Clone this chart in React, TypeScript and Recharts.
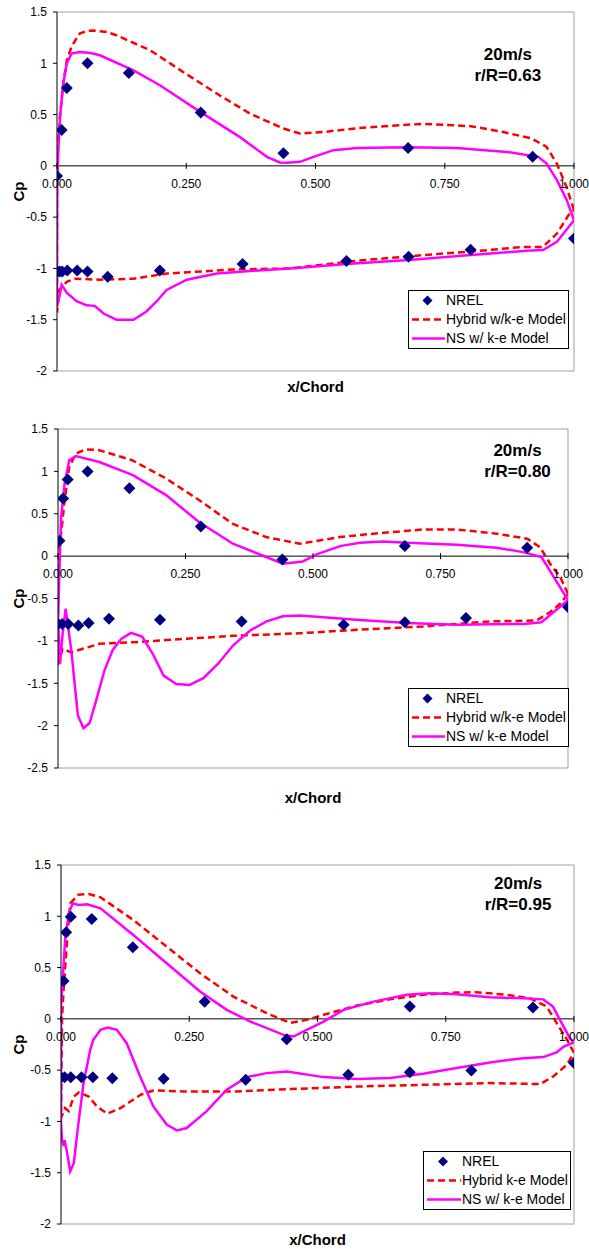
import React from "react";
import { ComposedChart, Line, Scatter, XAxis, YAxis, ReferenceLine, ReferenceDot, Legend, Label } from "recharts";

type Pt = [number, number];

const FONT = "Arial, 'Liberation Sans', sans-serif";
const RED = "#ff0000";
const MAGENTA = "#ff00ff";
const NAVY = "#000080";

// x/Chord ticks shared by all three panels
const xTicks = [0, 0.25, 0.5, 0.75, 1];
const xTickLabels = ["0.000", "0.250", "0.500", "0.750", "1.000"];

// ---------- r/R = 0.63 ----------
const yTicks063 = [-2, -1.5, -1, -0.5, 0, 0.5, 1, 1.5];
const nrel063: Pt[] = [
  [0.0, -0.1], [0.009, 0.35], [0.019, 0.76], [0.059, 1.0], [0.139, 0.905], [0.278, 0.52],
  [0.438, 0.124], [0.679, 0.175], [0.92, 0.088],
  [0.0, -1.03], [0.005, -1.03], [0.01, -1.03], [0.02, -1.02], [0.039, -1.02], [0.059, -1.03],
  [0.098, -1.08], [0.199, -1.02], [0.359, -0.957], [0.56, -0.928], [0.68, -0.886], [0.8, -0.818],
  [1.0, -0.707],
];
const hybrid063: Pt[] = [
  [1.0, -0.43], [0.985, -0.2], [0.967, 0.02], [0.947, 0.185], [0.918, 0.267], [0.863, 0.33],
  [0.8, 0.387], [0.709, 0.41], [0.644, 0.39], [0.58, 0.367], [0.515, 0.33], [0.47, 0.315],
  [0.438, 0.364], [0.373, 0.51], [0.309, 0.705], [0.244, 0.915], [0.18, 1.127], [0.115, 1.273],
  [0.096, 1.305], [0.07, 1.32], [0.057, 1.315], [0.044, 1.29], [0.035, 1.22], [0.028, 1.16],
  [0.019, 1.03], [0.012, 0.8], [0.006, 0.5], [0.002, 0.2], [0.0, -0.1], [0.0, -1.43],
  [0.0045, -1.21], [0.019, -1.13], [0.035, -1.1], [0.083, -1.11], [0.148, -1.1], [0.212, -1.05],
  [0.341, -1.01], [0.451, -1.0], [0.58, -0.925], [0.709, -0.87], [0.837, -0.82], [0.902, -0.79],
  [0.94, -0.79], [0.967, -0.66], [0.992, -0.46], [1.0, -0.43],
];
const ns063: Pt[] = [
  [1.0, -0.53], [0.986, -0.334], [0.967, -0.14], [0.947, 0.023], [0.931, 0.088], [0.87, 0.136],
  [0.773, 0.175], [0.676, 0.182], [0.58, 0.175], [0.535, 0.153], [0.496, 0.088], [0.47, 0.039],
  [0.445, 0.03], [0.431, 0.033], [0.406, 0.088], [0.38, 0.185], [0.354, 0.28], [0.277, 0.526],
  [0.199, 0.786], [0.148, 0.93], [0.083, 1.078], [0.065, 1.1], [0.044, 1.11], [0.028, 1.094],
  [0.019, 0.997], [0.012, 0.8], [0.006, 0.48], [0.0025, 0.15], [0.0006, -0.17], [0.0, -0.8],
  [0.0, -1.37], [0.006, -1.24], [0.009, -1.16], [0.013, -1.19], [0.019, -1.24], [0.038, -1.32],
  [0.057, -1.36], [0.073, -1.365], [0.09, -1.44], [0.115, -1.5], [0.148, -1.5], [0.173, -1.42],
  [0.193, -1.32], [0.212, -1.21], [0.251, -1.11], [0.309, -1.05], [0.373, -1.025], [0.451, -1.0],
  [0.56, -0.957], [0.68, -0.918], [0.8, -0.87], [0.908, -0.827], [0.94, -0.82], [0.967, -0.74],
  [1.0, -0.53],
];

// ---------- r/R = 0.80 ----------
const yTicks080 = [-2.5, -2, -1.5, -1, -0.5, 0, 0.5, 1, 1.5];
const nrel080: Pt[] = [
  [0.003, 0.18], [0.01, 0.68], [0.019, 0.905], [0.058, 1.0], [0.14, 0.8], [0.28, 0.35],
  [0.44, -0.04], [0.68, 0.12], [0.92, 0.1], [1.0, -0.6],
  [0.0, -0.8], [0.008, -0.8], [0.02, -0.8], [0.04, -0.82], [0.06, -0.79], [0.1, -0.74],
  [0.2, -0.75], [0.36, -0.77], [0.56, -0.81], [0.68, -0.78], [0.8, -0.73],
];
const hybrid080: Pt[] = [
  [1.0, -0.445], [0.985, -0.25], [0.965, -0.09], [0.945, 0.106], [0.92, 0.205], [0.86, 0.265],
  [0.782, 0.315], [0.716, 0.315], [0.618, 0.265], [0.553, 0.225], [0.474, 0.146], [0.408, 0.225],
  [0.343, 0.38], [0.277, 0.66], [0.212, 0.915], [0.146, 1.13], [0.081, 1.25], [0.055, 1.26],
  [0.035, 1.21], [0.022, 1.05], [0.013, 0.66], [0.006, 0.26], [0.0, 0.03], [0.0, -1.28],
  [0.009, -1.095], [0.026, -1.135], [0.081, -1.035], [0.147, -1.016], [0.212, -0.99],
  [0.343, -0.94], [0.474, -0.91], [0.585, -0.87], [0.716, -0.83], [0.847, -0.77], [0.938, -0.76],
  [0.965, -0.66], [0.985, -0.56], [1.0, -0.445],
];
const ns080: Pt[] = [
  [1.0, -0.52], [0.948, -0.012], [0.912, 0.047], [0.86, 0.1], [0.782, 0.135], [0.684, 0.158],
  [0.638, 0.174], [0.592, 0.158], [0.553, 0.118], [0.507, 0.02], [0.48, -0.063], [0.441, -0.09],
  [0.408, -0.01], [0.343, 0.146], [0.277, 0.4], [0.212, 0.72], [0.147, 0.955], [0.081, 1.11],
  [0.035, 1.18], [0.022, 1.13], [0.013, 0.855], [0.006, 0.46], [0.003, -0.13], [0.0, -0.75],
  [0.004, -1.27], [0.009, -0.92], [0.015, -0.62], [0.026, -1.11], [0.039, -1.88], [0.05, -2.03],
  [0.062, -1.97], [0.075, -1.7], [0.091, -1.35], [0.107, -1.11], [0.124, -0.976], [0.143, -0.905],
  [0.165, -0.95], [0.186, -1.155], [0.207, -1.41], [0.232, -1.51], [0.258, -1.52], [0.285, -1.44],
  [0.314, -1.27], [0.343, -1.055], [0.376, -0.88], [0.409, -0.77], [0.441, -0.71], [0.474, -0.7],
  [0.52, -0.72], [0.585, -0.75], [0.684, -0.79], [0.782, -0.81], [0.913, -0.8], [0.948, -0.78],
  [1.0, -0.52],
];

// ---------- r/R = 0.95 ----------
const yTicks095 = [-2, -1.5, -1, -0.5, 0, 0.5, 1, 1.5];
const nrel095: Pt[] = [
  [0.005, 0.37], [0.01, 0.844], [0.019, 0.996], [0.06, 0.974], [0.14, 0.698], [0.28, 0.168],
  [0.44, -0.198], [0.68, 0.12], [0.92, 0.11], [1.0, -0.43],
  [0.0, -0.57], [0.007, -0.57], [0.019, -0.57], [0.04, -0.57], [0.062, -0.57], [0.1, -0.578],
  [0.2, -0.584], [0.36, -0.594], [0.56, -0.545], [0.68, -0.52], [0.8, -0.503],
];
const hybrid095: Pt[] = [
  [1.0, -0.33], [0.986, -0.2], [0.966, -0.04], [0.947, 0.12], [0.914, 0.2], [0.869, 0.234],
  [0.81, 0.26], [0.771, 0.256], [0.706, 0.234], [0.641, 0.19], [0.577, 0.13], [0.512, 0.04],
  [0.479, -0.01], [0.447, -0.04], [0.401, 0.055], [0.336, 0.217], [0.271, 0.445], [0.206, 0.704],
  [0.141, 0.964], [0.077, 1.185], [0.054, 1.217], [0.034, 1.21], [0.018, 1.127], [0.012, 0.77],
  [0.005, 0.28], [0.002, 0.0], [0.0, -0.967], [0.008, -0.87], [0.015, -0.9], [0.025, -0.757],
  [0.035, -0.717], [0.054, -0.757], [0.07, -0.854], [0.09, -0.925], [0.116, -0.87], [0.155, -0.74],
  [0.18, -0.698], [0.239, -0.708], [0.336, -0.708], [0.447, -0.685], [0.577, -0.66], [0.706, -0.643],
  [0.836, -0.626], [0.934, -0.636], [0.96, -0.56], [0.986, -0.448], [1.0, -0.33],
];
const ns095: Pt[] = [
  [1.0, -0.23], [0.992, -0.188], [0.976, -0.042], [0.959, 0.12], [0.94, 0.19], [0.901, 0.2],
  [0.836, 0.211], [0.771, 0.24], [0.72, 0.25], [0.674, 0.234], [0.609, 0.168], [0.551, 0.088],
  [0.512, -0.026], [0.479, -0.107], [0.453, -0.172], [0.434, -0.156], [0.369, -0.026], [0.323, 0.088],
  [0.271, 0.266], [0.206, 0.542], [0.141, 0.818], [0.077, 1.078], [0.051, 1.117], [0.034, 1.11],
  [0.023, 1.127], [0.015, 1.03], [0.008, 0.77], [0.004, 0.445], [0.0, 0.12], [0.0, -0.53],
  [0.0, -1.016], [0.002, -1.18], [0.005, -1.24], [0.007, -1.18], [0.012, -1.31], [0.018, -1.487],
  [0.025, -1.405], [0.034, -1.016], [0.044, -0.626], [0.057, -0.3], [0.063, -0.204], [0.077, -0.107],
  [0.091, -0.085], [0.109, -0.107], [0.128, -0.237], [0.154, -0.56], [0.18, -0.854], [0.206, -1.03],
  [0.226, -1.088], [0.245, -1.064], [0.284, -0.9], [0.323, -0.69], [0.362, -0.568], [0.401, -0.529],
  [0.44, -0.513], [0.512, -0.568], [0.577, -0.587], [0.641, -0.577], [0.706, -0.536], [0.771, -0.48],
  [0.836, -0.425], [0.901, -0.383], [0.94, -0.373], [0.966, -0.328], [0.98, -0.27], [1.0, -0.23],
];

const toXY = (pts: Pt[]) => pts.map(([x, y]) => ({ x, y }));

const Diamond = (props: any) => {
  const { cx, cy } = props;
  if (cx == null || cy == null) return null;
  const r = 6;
  return <path d={`M${cx},${cy - r}L${cx + r},${cy}L${cx},${cy + r}L${cx - r},${cy}Z`} fill={NAVY} />;
};

const xTickShape = (label: string) => (props: any) => {
  const { cx, cy } = props;
  return (
    <g>
      <line x1={cx} x2={cx} y1={cy - 3} y2={cy + 3} stroke="#000" />
      <text x={cx} y={cy + 18} dy="0.35em" textAnchor="middle" fontSize={12} fill="#000">
        {label}
      </text>
    </g>
  );
};

const titleShape = (l1: string, l2: string) => (props: any) => {
  const { cx, cy } = props;
  return (
    <g fontWeight="bold" fontSize={17} fill="#000">
      <text x={cx} y={cy - 10.5} dy="0.35em" textAnchor="middle">{l1}</text>
      <text x={cx} y={cy + 10.5} dy="0.35em" textAnchor="middle">{l2}</text>
    </g>
  );
};

function LegendBox({ labels, width, symW }: { labels: string[]; width: number; symW: number }) {
  const row = { display: "flex", alignItems: "center", height: 19 } as const;
  return (
    <div style={{ width, height: 59, boxSizing: "border-box", border: "1px solid #000", background: "#fff", fontFamily: FONT, fontSize: 14, color: "#000", lineHeight: "19px" }}>
      <div style={row}>
        <svg width={symW} height={19}>
          <path d={`M${symW / 2},4.5L${symW / 2 + 5},9.5L${symW / 2},14.5L${symW / 2 - 5},9.5Z`} fill={NAVY} />
        </svg>
        <span>{labels[0]}</span>
      </div>
      <div style={row}>
        <svg width={symW} height={19}>
          <line x1={3} x2={symW - 1} y1={9.5} y2={9.5} stroke={RED} strokeWidth={2.5} strokeDasharray="7 4" />
        </svg>
        <span>{labels[1]}</span>
      </div>
      <div style={row}>
        <svg width={symW} height={19}>
          <line x1={3} x2={symW - 1} y1={9.5} y2={9.5} stroke={MAGENTA} strokeWidth={2.5} />
        </svg>
        <span>{labels[2]}</span>
      </div>
    </div>
  );
}

interface PanelProps {
  top: number;
  height: number;
  marginTop: number;
  marginRight: number;
  yAxisW: number;
  xAxisH: number;
  xLabelOffset: number;
  yTicks: number[];
  nrel: Pt[];
  hybrid: Pt[];
  ns: Pt[];
  title: [string, string];
  titleAt: [number, number];
  legendLabels: string[];
  legendBox: { left: number; top: number; width: number; symW: number };
}

function CpPanel(p: PanelProps) {
  const yMin = p.yTicks[0];
  const yMax = p.yTicks[p.yTicks.length - 1];
  return (
    <div style={{ position: "absolute", left: 0, top: p.top }}>
      <ComposedChart width={589} height={p.height} margin={{ top: p.marginTop, right: p.marginRight, left: 0, bottom: 0 }}>
        <XAxis
          type="number"
          dataKey="x"
          domain={[0, 1]}
          ticks={xTicks}
          allowDataOverflow
          height={p.xAxisH}
          tick={false}
          axisLine={false}
          tickLine={false}
        >
          <Label
            content={(lp: any) => {
              const vb = lp.viewBox;
              return (
                <text x={vb.x + vb.width / 2} y={vb.y + vb.height - p.xLabelOffset} textAnchor="middle" fontWeight="bold" fontSize={15} fill="#000">
                  x/Chord
                </text>
              );
            }}
          />
        </XAxis>
        <YAxis
          type="number"
          domain={[yMin, yMax]}
          ticks={p.yTicks}
          interval={0}
          allowDataOverflow
          width={p.yAxisW}
          axisLine={{ stroke: "#000" }}
          tickLine={{ stroke: "#000" }}
          tickSize={4}
          tickMargin={6}
          tick={{ fontSize: 12, fill: "#000" }}
        >
          <Label
            content={(lp: any) => {
              const vb = lp.viewBox;
              const cx = 19;
              const cy = vb.y + vb.height / 2;
              return (
                <text x={cx} y={cy} dy="0.35em" transform={`rotate(-90 ${cx} ${cy})`} textAnchor="middle" fontWeight="bold" fontSize={15} fill="#000">
                  Cp
                </text>
              );
            }}
          />
        </YAxis>
        <ReferenceLine y={yMax} stroke="#a0a0a0" />
        <ReferenceLine y={yMin} stroke="#a0a0a0" />
        <ReferenceLine x={1} stroke="#a0a0a0" />
        <ReferenceLine y={0} stroke="#000" />
        {xTicks.map((t, i) => (
          <ReferenceDot key={t} x={t} y={0} r={0} shape={xTickShape(xTickLabels[i])} />
        ))}
        <Line data={toXY(p.hybrid)} dataKey="y" type="linear" stroke={RED} strokeWidth={2.5} strokeDasharray="7 4" dot={false} activeDot={false} isAnimationActive={false} />
        <Line data={toXY(p.ns)} dataKey="y" type="linear" stroke={MAGENTA} strokeWidth={2.5} dot={false} activeDot={false} isAnimationActive={false} />
        <Scatter data={toXY(p.nrel)} dataKey="y" shape={Diamond} isAnimationActive={false} />
        <ReferenceDot x={p.titleAt[0]} y={p.titleAt[1]} r={0} shape={titleShape(p.title[0], p.title[1])} />
        <Legend
          layout="vertical"
          align="center"
          verticalAlign="middle"
          wrapperStyle={{ left: p.legendBox.left, top: p.legendBox.top, width: p.legendBox.width }}
          content={() => <LegendBox labels={p.legendLabels} width={p.legendBox.width} symW={p.legendBox.symW} />}
        />
      </ComposedChart>
    </div>
  );
}

export default function App() {
  return (
    <div style={{ position: "absolute", left: 0, top: 0, width: 589, height: 1249, background: "#fff", fontFamily: FONT }}>
      <CpPanel
        top={0}
        height={400}
        marginTop={12}
        marginRight={15}
        yAxisW={57}
        xAxisH={29}
        xLabelOffset={8}
        yTicks={yTicks063}
        nrel={nrel063}
        hybrid={hybrid063}
        ns={ns063}
        title={["20m/s", "r/R=0.63"]}
        titleAt={[0.872, 0.984]}
        legendLabels={["NREL", "Hybrid w/k-e Model", "NS w/ k-e Model"]}
        legendBox={{ left: 408, top: 290, width: 161, symW: 37 }}
      />
      <CpPanel
        top={400}
        height={420}
        marginTop={29}
        marginRight={21}
        yAxisW={58}
        xAxisH={52}
        xLabelOffset={17.5}
        yTicks={yTicks080}
        nrel={nrel080}
        hybrid={hybrid080}
        ns={ns080}
        title={["20m/s", "r/R=0.80"]}
        titleAt={[0.901, 1.131]}
        legendLabels={["NREL", "Hybrid w/k-e Model", "NS w/ k-e Model"]}
        legendBox={{ left: 408, top: 288, width: 161, symW: 37 }}
      />
      <CpPanel
        top={840}
        height={409}
        marginTop={25}
        marginRight={15}
        yAxisW={61}
        xAxisH={25}
        xLabelOffset={4.5}
        yTicks={yTicks095}
        nrel={nrel095}
        hybrid={hybrid095}
        ns={ns095}
        title={["20m/s", "r/R=0.95"]}
        titleAt={[0.891, 1.217]}
        legendLabels={["NREL", "Hybrid k-e Model", "NS w/ k-e Model"]}
        legendBox={{ left: 423, top: 311, width: 148, symW: 38 }}
      />
    </div>
  );
}
